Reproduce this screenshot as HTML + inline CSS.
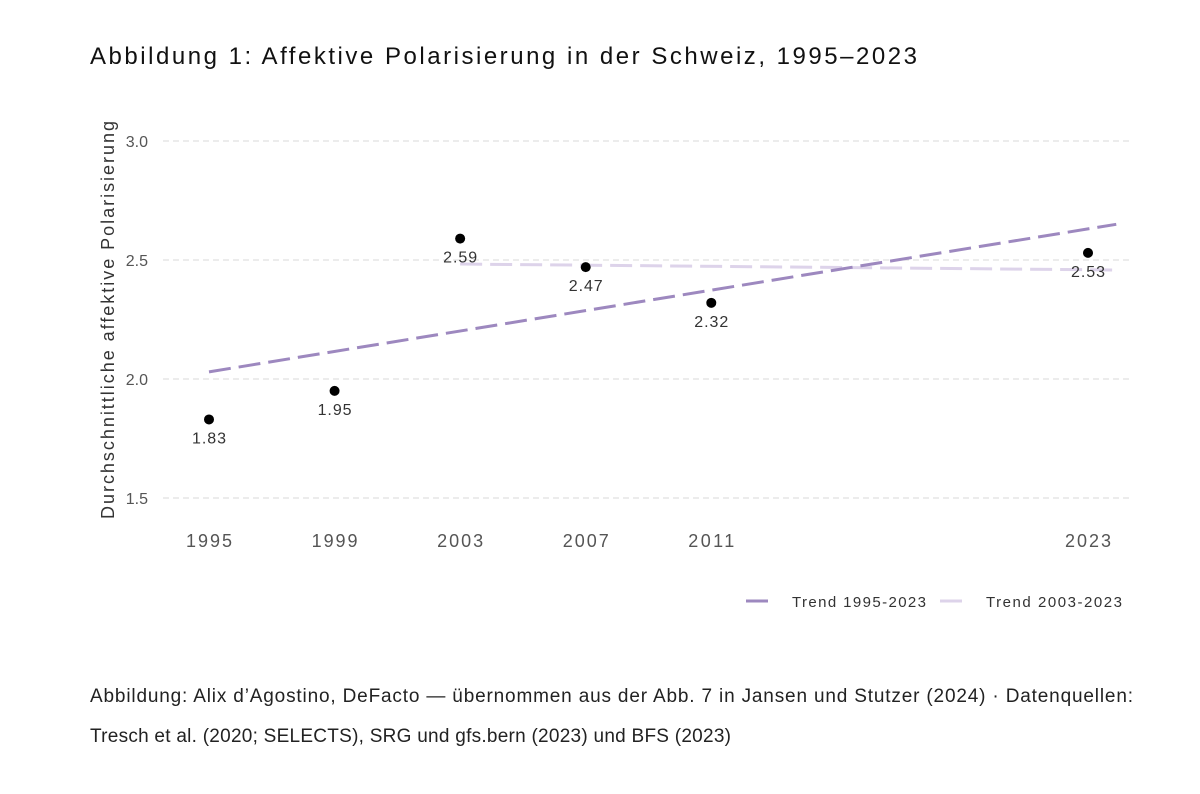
<!DOCTYPE html>
<html><head><meta charset="utf-8"><style>
body{margin:0;width:1200px;height:789px;background:#fff;font-family:"Liberation Sans",sans-serif;overflow:hidden}
svg text{font-family:"Liberation Sans",sans-serif}
</style></head><body>
<svg id="c" width="1200" height="789">
<text x="90" y="64" font-size="24" fill="#111" textLength="827" lengthAdjust="spacing">Abbildung 1: Affektive Polarisierung in der Schweiz, 1995–2023</text>
<text transform="translate(114,320) rotate(-90)" text-anchor="middle" font-size="18" fill="#333" textLength="398" lengthAdjust="spacing">Durchschnittliche affektive Polarisierung</text>
<g id="grid"></g><g id="trends"></g><g id="pts"></g>
<g>
<line x1="746" y1="601" x2="768" y2="601" stroke="#9d88bf" stroke-width="3"/>
<text x="792" y="607" font-size="15" fill="#333" textLength="134" lengthAdjust="spacing">Trend 1995-2023</text>
<line x1="940" y1="601" x2="962" y2="601" stroke="#ddd3ea" stroke-width="3"/>
<text x="986" y="607" font-size="15" fill="#333" textLength="136" lengthAdjust="spacing">Trend 2003-2023</text>
</g>
<text x="90" y="702" font-size="19" fill="#222" textLength="1043" lengthAdjust="spacing">Abbildung: Alix d’Agostino, DeFacto — übernommen aus der Abb. 7 in Jansen und Stutzer (2024) · Datenquellen:</text>
<text x="90" y="742" font-size="19" fill="#222" textLength="641" lengthAdjust="spacing">Tresch et al. (2020; SELECTS), SRG und gfs.bern (2023) und BFS (2023)</text>
</svg>
<script>
const years=[1995,1999,2003,2007,2011,2023];
const values=[1.83,1.95,2.59,2.47,2.32,2.53];
const labels=["1.83","1.95","2.59","2.47","2.32","2.53"];
const yTicks=[1.5,2.0,2.5,3.0];
const yTickLabels=["1.5","2.0","2.5","3.0"];
const trendA=[[1995,2.03],[2023.9,2.65]];
const trendB=[[2003,2.483],[2023.9,2.458]];
const X=y=>209+(y-1995)*(879/28);
const Y=v=>498-(v-1.5)*238;
const NS="http://www.w3.org/2000/svg";
function mk(p,t,a){const e=document.createElementNS(NS,t);for(const k in a)e.setAttribute(k,a[k]);p.appendChild(e);return e;}
const g=document.getElementById('grid');
yTicks.forEach((v,i)=>{
 const l=mk(g,'line',{x1:163,x2:1133,y1:Y(v),y2:Y(v),stroke:'#d8d8d8','stroke-dasharray':'6 4'});
 
 
 const t=mk(g,'text',{x:148,y:Y(v)+6,'text-anchor':'end','font-size':16,fill:'#555'});t.textContent=yTickLabels[i];
 
 
});
years.forEach(y=>{
 const t=mk(g,'text',{x:X(y),y:547,'text-anchor':'middle','font-size':18,fill:'#555',textLength:46,lengthAdjust:'spacing'});t.textContent=y;
 
 
});
const tr=document.getElementById('trends');
const lb=mk(tr,'line',{x1:X(trendB[0][0]),y1:Y(trendB[0][1]),x2:X(trendB[1][0]),y2:Y(trendB[1][1]),stroke:'#ddd3ea','stroke-width':3,'stroke-dasharray':'22 8'});


const la=mk(tr,'line',{x1:X(trendA[0][0]),y1:Y(trendA[0][1]),x2:X(trendA[1][0]),y2:Y(trendA[1][1]),stroke:'#9d88bf','stroke-width':3,'stroke-dasharray':'22 8'});


const p=document.getElementById('pts');
years.forEach((y,i)=>{
 const c=mk(p,'circle',{cx:X(y),cy:Y(values[i]),r:5,fill:'#000'});
 
 
 const t=mk(p,'text',{x:X(y),y:Y(values[i])+24,'text-anchor':'middle','font-size':16,fill:'#333',textLength:34,lengthAdjust:'spacing'});t.textContent=labels[i];
 
 
});
</script>
</body></html>
